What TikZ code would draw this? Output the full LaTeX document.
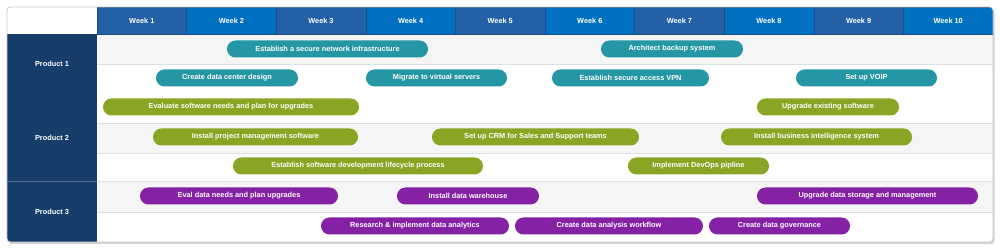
\documentclass[tikz,border=0pt]{standalone}
\usepackage{fontspec}
\setmainfont{Liberation Sans}
\usepackage{xcolor}
\usepackage{tikz}
\usetikzlibrary{positioning, calc}
\definecolor{hdark}{HTML}{2360A5}
\definecolor{hblue}{HTML}{0070C0}
\definecolor{cnavy}{HTML}{173E6A}
\definecolor{cteal}{HTML}{2596A3}
\definecolor{colive}{HTML}{88A523}
\definecolor{cpurple}{HTML}{8421A5}
\definecolor{crow}{HTML}{F5F5F5}
\definecolor{cline}{HTML}{DCE1E6}
\definecolor{cframe}{HTML}{C9CED3}

\begin{document}
\begin{tikzpicture}[
    x=0.75pt, y=-0.75pt,
    font=\fontsize{5.5}{6.5}\selectfont\bfseries,
    week/.style={
        rectangle, draw=hdark!80!black, line width=0.3pt, text=white,
        minimum width=67.2pt, minimum height=20.25pt, inner sep=0pt
    },
    product/.style={text=white, inner sep=0pt},
    bar/.style={
        rectangle, rounded corners=6.3pt, text=white,
        minimum height=12.75pt, inner sep=0pt
    },
    rowline/.style={draw=cline, line width=0.6pt}
]
\useasboundingbox (0,0) rectangle (1000,249);
% frame and shadow
\fill[gray!35, rounded corners=2.5pt] (8,8.5) rectangle (994.5,244);
\begin{scope}
\clip[rounded corners=2.5pt] (7,7) rectangle (993,242);
\fill[white] (7,7) rectangle (993,242);
% row bands
\foreach \ya/\yb in {34/64, 123/153, 181.5/212}
  \fill[crow] (97,\ya) rectangle (993,\yb);
\foreach \yy in {64, 123, 153, 181.5, 212}
  \draw[rowline] (97,\yy) -- (993,\yy);
% header
\foreach \i/\c in {1/hdark, 2/hblue, 3/hdark, 4/hblue, 5/hdark,
                   6/hblue, 7/hdark, 8/hblue, 9/hdark, 10/hblue}
  \node[week, fill=\c] (wk\i) at ({97+(\i-0.5)*89.6}, 20.5) {Week \i};
% product column
\fill[cnavy] (7,34) rectangle (97,242);
\draw[cnavy!75!white, line width=0.6pt] (7,181.5) -- (97,181.5);
\end{scope}
\draw[cframe, line width=0.6pt, rounded corners=2.5pt] (7,7) rectangle (993,242);

\node[product] (p1) at (52,64)  {Product 1};
\node[product] (p2) at (52,138) {Product 2};
\node[product] (p3) at (52,212) {Product 3};

% tasks: left/right/row centre/colour/text
\foreach \a/\b/\yy/\c/\t [count=\k] in {
    227/428/49/cteal/Establish a secure network infrastructure,
    601/743/49/cteal/Architect backup system,
    156/298/78/cteal/Create data center design,
    366/507/78/cteal/Migrate to virtual servers,
    552/709/78/cteal/Establish secure access VPN,
    796/937/78/cteal/Set up VOIP,
    103/359/107/colive/Evaluate software needs and plan for upgrades,
    757/899/107/colive/Upgrade existing software,
    153/358/137/colive/Install project management software,
    432/639/137/colive/Set up CRM for Sales and Support teams,
    721/912/137/colive/Install business intelligence system,
    233/483/166/colive/Establish software development lifecycle process,
    628/769/166/colive/Implement DevOps pipline,
    140/338/196/cpurple/Eval data needs and plan upgrades,
    397/539/196/cpurple/Install data warehouse,
    757/978/196/cpurple/Upgrade data storage and management,
    321/509/226/cpurple/Research \& implement data analytics,
    515/703/226/cpurple/Create data analysis workflow,
    709/850/226/cpurple/Create data governance}
  \node[bar, fill=\c, minimum width={(\b-\a)*0.75pt}] (task\k) at ({(\a+\b)/2}, \yy) {\t};
\end{tikzpicture}
\end{document}
